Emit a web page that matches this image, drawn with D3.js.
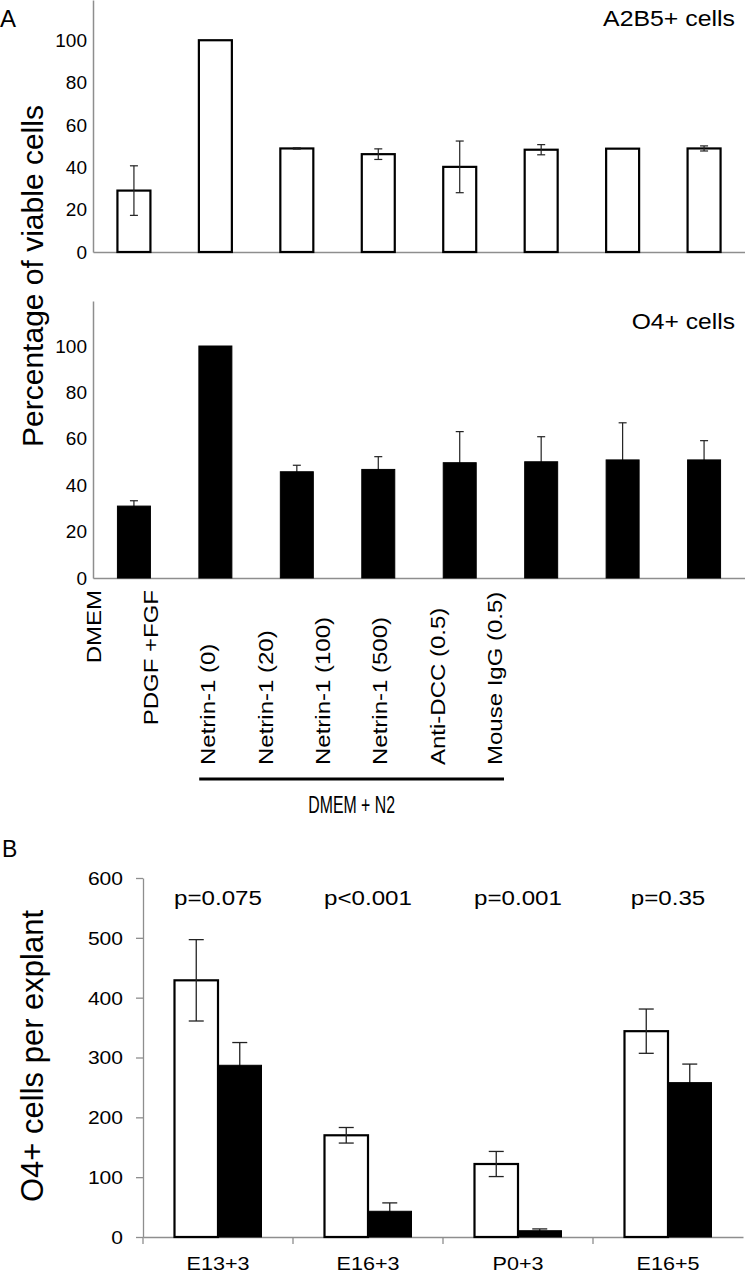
<!DOCTYPE html>
<html>
<head>
<meta charset="utf-8">
<script src="https://cdn.jsdelivr.net/npm/d3@7"></script>
<style>
  html, body { margin: 0; padding: 0; background: #fff; }
  svg { display: block; }
  text { font-family: "Liberation Sans", Arial, Helvetica, sans-serif; fill: #000; }
</style>
</head>
<body>
<svg id="chart" width="745" height="1280"></svg>
<script>
// ---------------- DATA ----------------
const categories = ["DMEM", "PDGF +FGF", "Netrin-1 (0)", "Netrin-1 (20)", "Netrin-1 (100)", "Netrin-1 (500)", "Anti-DCC (0.5)", "Mouse IgG (0.5)"];
const a2b5Values = [29, 100, 48.9, 46.2, 40.2, 48.3, 48.8, 48.9];
const a2b5Errors = [11.7, 0, 0.3, 2.5, 12.2, 2.4, 0, 1.2];
const o4Values = [31, 100, 45.8, 46.8, 49.7, 50.1, 50.9, 50.9];
const o4Errors = [2.3, 0, 2.8, 5.5, 13.4, 10.8, 16, 8.3];
const bracketCategories = ["Netrin-1 (0)", "Netrin-1 (20)", "Netrin-1 (100)", "Netrin-1 (500)", "Anti-DCC (0.5)", "Mouse IgG (0.5)"];
const bracketLabel = "DMEM + N2";
const percentTicks = [0, 20, 40, 60, 80, 100];
const yLabelA = "Percentage of viable cells";
const titleTop = "A2B5+ cells";
const titleBottom = "O4+ cells";

const stages = ["E13+3", "E16+3", "P0+3", "E16+5"];
const seriesB = ["control", "netrin"];
const controlValues = [429, 170, 122, 344];
const controlErrors = [68, 13, 21, 37];
const netrinValues = [287, 43, 10.5, 258];
const netrinErrors = [38, 14, 3, 31];
const pValues = ["p=0.075", "p<0.001", "p=0.001", "p=0.35"];
const countTicks = [0, 100, 200, 300, 400, 500, 600];
const yLabelB = "O4+ cells per explant";

// ---------------- SETUP ----------------
const svg = d3.select("#chart");
const AXIS = "#8e8e8e";
const ERR = "#222";

function txt(parent, x, y, str, o) {
  o = o || {};
  const t = parent.append("text")
    .attr("transform", `translate(${x},${y}) rotate(${o.rotate || 0}) scale(${o.sx || 1},${o.sy || 1})`)
    .attr("text-anchor", o.anchor || "start")
    .style("font-size", (o.size || 16) + "px")
    .text(str);
  if (o.dy) t.attr("dy", o.dy);
  return t;
}

// ---------------- PANEL A ----------------
const xA = d3.scaleBand().domain(categories).range([93, 745]).paddingInner(0.595).paddingOuter(0.3);
const yTop = d3.scaleLinear().domain([0, 119]).range([252, 0]);
const yBot = d3.scaleLinear().domain([0, 119.4]).range([578, 301]);

function panelA(yScale, values, errors, fill, capW) {
  const g = svg.append("g");
  // y axis
  const ay = g.append("g").attr("transform", "translate(93,0)")
    .call(d3.axisLeft(yScale).tickValues(percentTicks).tickSize(0).tickPadding(6).tickSizeOuter(0));
  ay.select(".domain").attr("stroke", AXIS).attr("stroke-width", 1.5);
  ay.selectAll("text").style("font-size", "19px").style("font-family", "'Liberation Sans', Arial, sans-serif").attr("fill", "#000");
  // x axis
  const ax = g.append("g").attr("transform", `translate(0,${yScale(0)})`)
    .call(d3.axisBottom(xA).tickSize(0).tickSizeOuter(0).tickFormat(""));
  ax.select(".domain").attr("stroke", AXIS).attr("stroke-width", 1.5);

  const data = categories.map((c, i) => ({ c, v: values[i], e: errors[i] }));
  const drawErr = (sel) => {
    const eg = sel.append("g").attr("stroke", ERR).attr("stroke-width", 1.2);
    data.filter(d => d.e > 0).forEach(d => {
      const cx = xA(d.c) + xA.bandwidth() / 2;
      const y1 = yScale(d.v + d.e), y2 = yScale(d.v - d.e);
      eg.append("line").attr("x1", cx).attr("x2", cx).attr("y1", y1).attr("y2", y2);
      eg.append("line").attr("x1", cx - capW / 2).attr("x2", cx + capW / 2).attr("y1", y1).attr("y2", y1);
      eg.append("line").attr("x1", cx - capW / 2).attr("x2", cx + capW / 2).attr("y1", y2).attr("y2", y2);
    });
  };
  if (fill !== "#fff") drawErr(g);
  g.append("g").selectAll("rect").data(data).join("rect")
    .attr("x", d => xA(d.c))
    .attr("y", d => yScale(d.v))
    .attr("width", xA.bandwidth())
    .attr("height", d => yScale(0) - yScale(d.v))
    .attr("fill", fill)
    .attr("stroke", "#000")
    .attr("stroke-width", fill === "#fff" ? 2.2 : 1);
  if (fill === "#fff") drawErr(g);
  return g;
}

panelA(yTop, a2b5Values, a2b5Errors, "#fff", 8);
panelA(yBot, o4Values, o4Errors, "#000", 8);

txt(svg, 735, 26, titleTop, { size: 22, sx: 1.13, anchor: "end" });
txt(svg, 735, 329, titleBottom, { size: 22, sx: 1.12, anchor: "end" });
txt(svg, 0, 27, "A", { size: 24 });
txt(svg, 43, 276, yLabelA, { size: 30, rotate: -90, anchor: "middle" });

// rotated category labels
const labelX = d3.scalePoint().domain(categories).range([93.5, 495]);
categories.forEach(c => {
  const inBracket = bracketCategories.includes(c);
  txt(svg, labelX(c), inBracket ? 765 : 590, c, {
    size: 20, rotate: -90, sx: 1.2, anchor: inBracket ? "start" : "end", dy: "0.35em"
  });
});
const bx1 = labelX(bracketCategories[0]) - 9;
const bx2 = labelX(bracketCategories[bracketCategories.length - 1]) + 9;
svg.append("line").attr("x1", bx1).attr("x2", bx2).attr("y1", 779).attr("y2", 779)
  .attr("stroke", "#000").attr("stroke-width", 3);
txt(svg, (bx1 + bx2) / 2, 813, bracketLabel, { size: 24, sx: 0.66, anchor: "middle" });

// ---------------- PANEL B ----------------
const xB = d3.scaleBand().domain(stages).range([143, 743]);
const xSub = d3.scaleBand().domain(seriesB).range([0, xB.bandwidth()]).paddingInner(0).paddingOuter(0.724);
const yB = d3.scaleLinear().domain([0, 600]).range([1237, 878]);

const gB = svg.append("g");
const ayB = gB.append("g").attr("transform", "translate(143,0)")
  .call(d3.axisLeft(yB).tickValues(countTicks).tickSize(7).tickSizeOuter(0).tickFormat(d3.format("d")));
ayB.select(".domain").attr("stroke", AXIS).attr("stroke-width", 1.3);
ayB.selectAll(".tick line").attr("stroke", AXIS).attr("stroke-width", 1.3);
ayB.selectAll("text")
  .attr("x", 0).attr("dy", "0.36em")
  .attr("transform", "translate(-20,0) scale(1.17,1)")
  .style("font-size", "18px").style("font-family", "'Liberation Sans', Arial, sans-serif").attr("fill", "#000");

const axB = gB.append("g").attr("transform", `translate(0,${yB(0)})`)
  .call(d3.axisBottom(xB).tickSize(0).tickSizeOuter(0).tickFormat(""));
axB.select(".domain").attr("stroke", AXIS).attr("stroke-width", 1.3);
gB.append("g").selectAll("line").data(stages).join("line")
  .attr("x1", d => xB(d)).attr("x2", d => xB(d))
  .attr("y1", yB(0)).attr("y2", yB(0) + 7)
  .attr("stroke", AXIS).attr("stroke-width", 1.3);

const bData = [];
stages.forEach((s, i) => {
  bData.push({ s, k: "control", v: controlValues[i], e: controlErrors[i] });
  bData.push({ s, k: "netrin", v: netrinValues[i], e: netrinErrors[i] });
});
function errB(sel, data) {
  const eg = sel.append("g").attr("stroke", ERR).attr("stroke-width", 1.3);
  data.forEach(d => {
    const cx = xB(d.s) + xSub(d.k) + xSub.bandwidth() / 2;
    const y1 = yB(d.v + d.e), y2 = yB(Math.max(0, d.v - d.e));
    eg.append("line").attr("x1", cx).attr("x2", cx).attr("y1", y1).attr("y2", y2);
    eg.append("line").attr("x1", cx - 7.5).attr("x2", cx + 7.5).attr("y1", y1).attr("y2", y1);
    if (d.k === "control")
      eg.append("line").attr("x1", cx - 7.5).attr("x2", cx + 7.5).attr("y1", y2).attr("y2", y2);
  });
}
const netrinData = bData.filter(d => d.k === "netrin");
const controlData = bData.filter(d => d.k === "control");
errB(gB, netrinData);
gB.append("g").selectAll("rect").data(bData).join("rect")
  .attr("x", d => xB(d.s) + xSub(d.k))
  .attr("y", d => yB(d.v))
  .attr("width", xSub.bandwidth())
  .attr("height", d => yB(0) - yB(d.v))
  .attr("fill", d => d.k === "control" ? "#fff" : "#000")
  .attr("stroke", "#000")
  .attr("stroke-width", d => d.k === "control" ? 2.2 : 1);
errB(gB, controlData);

stages.forEach((s, i) => {
  const cx = xB(s) + xB.bandwidth() / 2;
  txt(gB, cx, 905, pValues[i], { size: 21, sx: 1.15, anchor: "middle" });
  txt(gB, cx, 1270, s, { size: 18, sx: 1.2, anchor: "middle" });
});

txt(svg, 2, 857, "B", { size: 23 });
txt(svg, 43, 1056, yLabelB, { size: 31, rotate: -90, anchor: "middle" });
</script>
</body>
</html>
